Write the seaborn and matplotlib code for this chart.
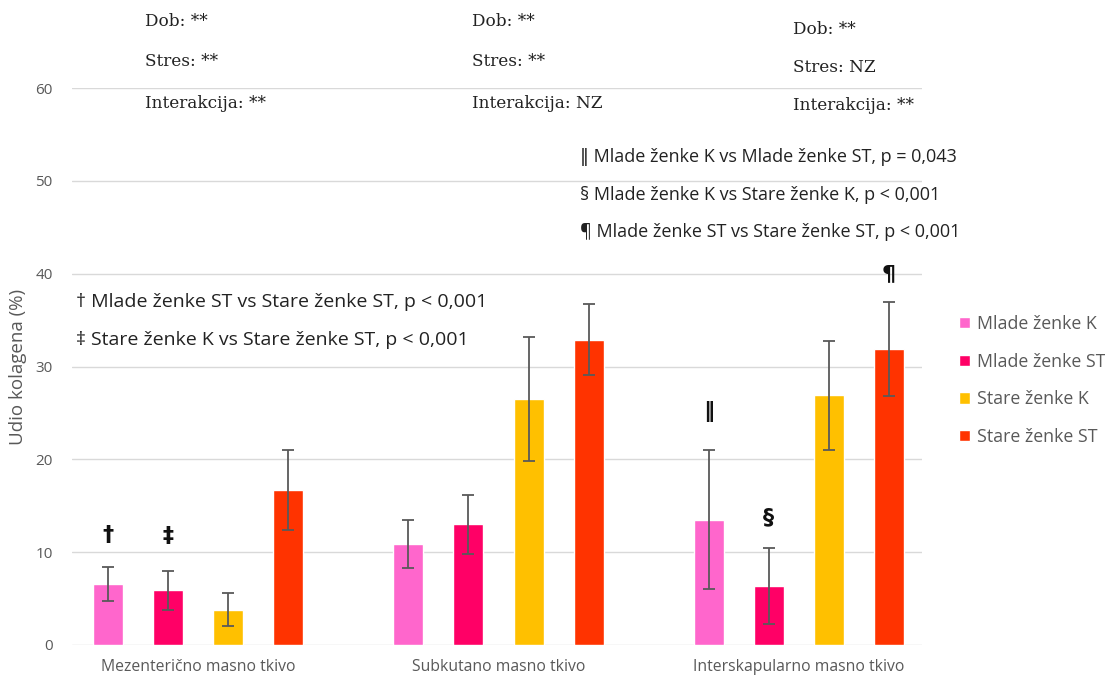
import matplotlib
matplotlib.use('Agg')
import matplotlib.pyplot as plt
import seaborn as sns
import pandas as pd

# data
tkiva = ['Mezenterično masno tkivo', 'Subkutano masno tkivo', 'Interskapularno masno tkivo']
skupine = ['Mlade ženke K', 'Mlade ženke ST', 'Stare ženke K', 'Stare ženke ST']
boje = ['#FF66CC', '#FF0066', '#FFC000', '#FF3300']
mlade_k = [6.6, 10.9, 13.5]
mlade_st = [5.9, 13.0, 6.4]
stare_k = [3.8, 26.5, 26.9]
stare_st = [16.7, 32.9, 31.9]
mlade_k_err = [1.85, 2.6, 7.5]
mlade_st_err = [2.1, 3.2, 4.1]
stare_k_err = [1.8, 6.7, 5.9]
stare_st_err = [4.3, 3.8, 5.1]
yticks = [0, 10, 20, 30, 40, 50, 60]

vrijednosti = [mlade_k, mlade_st, stare_k, stare_st]
greske = [mlade_k_err, mlade_st_err, stare_k_err, stare_st_err]
rows = []
for s, vals in zip(skupine, vrijednosti):
    for t, v in zip(tkiva, vals):
        rows.append({'tkivo': t, 'skupina': s, 'udio': v})
df = pd.DataFrame(rows)

sns.set_style('white')
sans = ['Open Sans', 'DejaVu Sans']
plt.rcParams['font.family'] = sans
grey = '#595959'

fig = plt.figure(figsize=(11.05, 6.78), dpi=100)
ax = fig.add_axes([72 / 1105, 33 / 678, 850 / 1105, 557 / 678])

sns.barplot(data=df, x='tkivo', y='udio', hue='skupina', order=tkiva, hue_order=skupine,
            palette=boje, width=0.8, gap=0.5, errorbar=None, saturation=1, ax=ax, legend=True)

# error bars
for cont, errs in zip(ax.containers, greske):
    for bar, e in zip(cont, errs):
        xc = bar.get_x() + bar.get_width() / 2
        ax.errorbar(xc, bar.get_height(), yerr=e, fmt='none', ecolor='#595959',
                    elinewidth=1.3, capsize=4, capthick=1.3, zorder=5)

ax.set_ylim(0, 60)
ax.set_xlim(-0.42, 2.41)
ax.set_yticks(yticks)
ax.yaxis.grid(True, color='#D9D9D9', linewidth=1)
ax.set_axisbelow(True)
for sp in ax.spines.values():
    sp.set_visible(False)
ax.tick_params(axis='y', length=0, pad=14, labelsize=11, labelcolor=grey)
ax.tick_params(axis='x', length=0, pad=10, labelsize=11.3, labelcolor=grey)
ax.set_xlabel('')
ax.set_ylabel('Udio kolagena (%)', fontsize=13.5, color=grey, labelpad=6)

# legend
handles, labels = ax.get_legend_handles_labels()
ax.legend(handles, labels, loc='upper left', bbox_to_anchor=(952 / 1105, 1 - 308 / 678),
          bbox_transform=fig.transFigure, frameon=False, fontsize=12.8, labelcolor=grey,
          handlelength=0.6, handleheight=0.6, handletextpad=0.4, labelspacing=1.1,
          borderaxespad=0)

# ANOVA annotations on top
serif = ['DejaVu Serif']
anova = [
    (145, ['Dob: **', 'Stres: **', 'Interakcija: **'], [22, 62, 104]),
    (472, ['Dob: **', 'Stres: **', 'Interakcija: NZ'], [22, 62, 104]),
    (793, ['Dob: **', 'Stres: NZ', 'Interakcija: **'], [29, 68, 106]),
]
for xp, texts, ys in anova:
    for t, yp in zip(texts, ys):
        fig.text(xp / 1105, 1 - yp / 678, t, family=serif, fontsize=12.2,
                 color='#222222', va='center', ha='left')

# significance explanations
sig_notes = [
    (580, 157, '‖ Mlade ženke K vs Mlade ženke ST, p = 0,043', 13),
    (580, 195, '§ Mlade ženke K vs Stare ženke K, p < 0,001', 13),
    (580, 232, '¶ Mlade ženke ST vs Stare ženke ST, p < 0,001', 13),
    (76, 302, '† Mlade ženke ST vs Stare ženke ST, p < 0,001', 14),
    (76, 340, '‡ Stare ženke K vs Stare ženke ST, p < 0,001', 14),
]
for xp, yp, t, fs in sig_notes:
    fig.text(xp / 1105, 1 - yp / 678, t, fontsize=fs, color='#222222',
             va='center', ha='left', family=sans)

# symbols above bars: (hue index, category index, symbol, offset above error bar)
symbols = [(0, 0, '†', 3.4), (1, 0, '‡', 3.7), (0, 2, '‖', 4.2), (1, 2, '§', 3.3), (3, 2, '¶', 3.0)]
for hi, ci, s, off in symbols:
    bar = ax.containers[hi][ci]
    xc = bar.get_x() + bar.get_width() / 2
    top = bar.get_height() + greske[hi][ci]
    ax.text(xc, top + off, s, ha='center', va='center', fontsize=16,
            fontweight='bold', color='#111111', family=['DejaVu Sans'])

fig.savefig('out.png', dpi=100)
